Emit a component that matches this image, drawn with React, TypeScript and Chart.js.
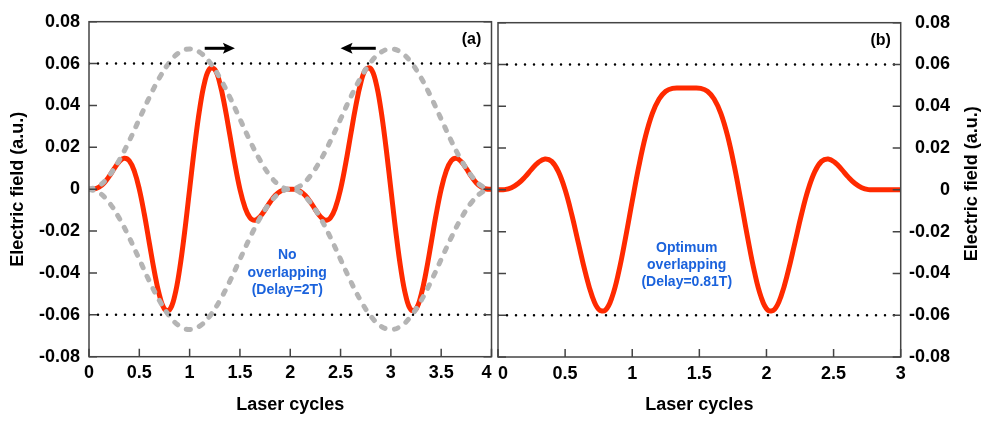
import React, { useEffect, useRef } from 'react';
import { Chart, registerables } from 'chart.js';

Chart.register(...registerables);

const FONT = '"Liberation Sans", Arial, Helvetica, sans-serif';

// ---------- axis ticks ----------
const yTickValues = [-0.08, -0.06, -0.04, -0.02, 0, 0.02, 0.04, 0.06, 0.08];
const yTickLabels = ['-0.08', '-0.06', '-0.04', '-0.02', '0', '0.02', '0.04', '0.06', '0.08'];
const xTickValuesA = [0, 0.5, 1, 1.5, 2, 2.5, 3, 3.5, 4];
const xTickLabelsA = ['0', '0.5', '1', '1.5', '2', '2.5', '3', '3.5', '4'];
const xTickValuesB = [0, 0.5, 1, 1.5, 2, 2.5, 3];
const xTickLabelsB = ['0', '0.5', '1', '1.5', '2', '2.5', '3'];
const xTitle = 'Laser cycles';
const yTitle = 'Electric field (a.u.)';

// ---------- panel (a): no overlapping (delay = 2T) ----------
const redXA = [
  0, 0.05, 0.1, 0.15, 0.2, 0.25, 0.3, 0.35, 0.4, 0.45, 0.5, 0.55, 0.6, 0.65, 0.7, 0.75, 0.8, 0.85, 0.9, 0.95,
  1, 1.05, 1.1, 1.15, 1.2, 1.25, 1.3, 1.35, 1.4, 1.45, 1.5, 1.55, 1.6, 1.65, 1.7, 1.75, 1.8, 1.85, 1.9, 1.95,
  2, 2.05, 2.1, 2.15, 2.2, 2.25, 2.3, 2.35, 2.4, 2.45, 2.5, 2.55, 2.6, 2.65, 2.7, 2.75, 2.8, 2.85, 2.9, 2.95,
  3, 3.05, 3.1, 3.15, 3.2, 3.25, 3.3, 3.35, 3.4, 3.45, 3.5, 3.55, 3.6, 3.65, 3.7, 3.75, 3.8, 3.85, 3.9, 3.95, 4,
];
const redYA = [
  0, 0.0001, 0.001, 0.003, 0.0061, 0.0098, 0.0131, 0.0148, 0.0136, 0.0087, 0, -0.012, -0.0258, -0.0394, -0.0506, -0.0572, -0.0576, -0.0513, -0.0384, -0.0206,
  0, 0.0206, 0.0384, 0.0513, 0.0576, 0.0572, 0.0506, 0.0394, 0.0258, 0.012, 0, -0.0087, -0.0136, -0.0148, -0.0131, -0.0098, -0.0061, -0.003, -0.001, -0.0001,
  0, -0.0001, -0.001, -0.003, -0.0061, -0.0098, -0.0131, -0.0148, -0.0136, -0.0087, 0, 0.012, 0.0258, 0.0394, 0.0506, 0.0572, 0.0576, 0.0513, 0.0384, 0.0206,
  0, -0.0206, -0.0384, -0.0513, -0.0576, -0.0572, -0.0506, -0.0394, -0.0258, -0.012, 0, 0.0087, 0.0136, 0.0148, 0.0131, 0.0098, 0.0061, 0.003, 0.001, 0.0001, 0,
];
const envX = [
  0, 0.1, 0.2, 0.3, 0.4, 0.5, 0.6, 0.7, 0.8, 0.9, 1, 1.1, 1.2, 1.3, 1.4, 1.5, 1.6, 1.7, 1.8, 1.9,
  2, 2.1, 2.2, 2.3, 2.4, 2.5, 2.6, 2.7, 2.8, 2.9, 3, 3.1, 3.2, 3.3, 3.4, 3.5, 3.6, 3.7, 3.8, 3.9, 4,
];
const envUpper = [
  0, 0.0016, 0.0064, 0.0138, 0.0231, 0.0335, 0.0439, 0.0532, 0.0606, 0.0654, 0.067, 0.0654, 0.0606, 0.0532, 0.0439, 0.0335, 0.0231, 0.0138, 0.0064, 0.0016,
  0, 0.0016, 0.0064, 0.0138, 0.0231, 0.0335, 0.0439, 0.0532, 0.0606, 0.0654, 0.067, 0.0654, 0.0606, 0.0532, 0.0439, 0.0335, 0.0231, 0.0138, 0.0064, 0.0016, 0,
];
const envLower = [
  0, -0.0016, -0.0064, -0.0138, -0.0231, -0.0335, -0.0439, -0.0532, -0.0606, -0.0654, -0.067, -0.0654, -0.0606, -0.0532, -0.0439, -0.0335, -0.0231, -0.0138, -0.0064, -0.0016,
  0, -0.0016, -0.0064, -0.0138, -0.0231, -0.0335, -0.0439, -0.0532, -0.0606, -0.0654, -0.067, -0.0654, -0.0606, -0.0532, -0.0439, -0.0335, -0.0231, -0.0138, -0.0064, -0.0016, 0,
];
const refXA = [0, 4];
const refUpper = [0.06, 0.06];
const refLower = [-0.06, -0.06];
const arrowFromX = [1.15, 2.85];
const arrowToX = [1.45, 2.5];
const arrowY = [0.0673, 0.0673];
const noteA = ['No', 'overlapping', '(Delay=2T)'];
const noteAX = 1.97;
const noteAY = [-0.0314, -0.0399, -0.0481];

// ---------- panel (b): optimum overlapping (delay = 0.81T) ----------
const redXB = [
  0, 0.05, 0.1, 0.15, 0.2, 0.25, 0.3, 0.35, 0.4, 0.45, 0.5, 0.55, 0.6, 0.65, 0.7, 0.75, 0.8,
  0.85, 0.9, 0.95, 1, 1.05, 1.1, 1.15, 1.2, 1.25, 1.3, 1.35, 1.4,
  1.41, 1.46, 1.51, 1.56, 1.61, 1.66, 1.71, 1.76, 1.81, 1.86, 1.91, 1.96,
  2.01, 2.06, 2.11, 2.16, 2.21, 2.26, 2.31, 2.36, 2.41, 2.46, 2.51, 2.56, 2.61, 2.66, 2.71, 2.76, 2.81,
  2.85, 2.9, 2.95, 3,
];
const redYB = [
  0, 0.0001, 0.001, 0.003, 0.0061, 0.0098, 0.0131, 0.0148, 0.0136, 0.0087, 0, -0.012, -0.0258, -0.0394, -0.0506, -0.0572, -0.0576,
  -0.0513, -0.0391, -0.023, -0.0054, 0.0115, 0.0259, 0.0366, 0.0435, 0.0472, 0.0486, 0.0488, 0.0487,
  0.0487, 0.0488, 0.0486, 0.0472, 0.0435, 0.0366, 0.0259, 0.0115, -0.0054, -0.023, -0.0391, -0.0513,
  -0.0576, -0.0572, -0.0506, -0.0394, -0.0258, -0.012, 0, 0.0087, 0.0136, 0.0148, 0.0131, 0.0098, 0.0061, 0.003, 0.001, 0.0001, 0,
  0, 0, 0, 0,
];
const refXB = [0, 3];
const noteB = ['Optimum', 'overlapping', '(Delay=0.81T)'];
const noteBX = 1.406;
const noteBY = [-0.028, -0.036, -0.044];

// ---------- styles ----------
const RED = '#ff2a00';
const GRAY = '#b4b4b4';
const BLUE = '#1a62dc';
const FRAME = '#444444';

const pts = (xs: number[], ys: number[]) => xs.map((x, i) => ({ x, y: ys[i] }));

const refStyle = {
  borderColor: '#000',
  borderWidth: 2.5,
  borderDash: [0, 9],
  borderCapStyle: 'round' as const,
  pointRadius: 0,
  tension: 0,
};
const grayStyle = {
  borderColor: GRAY,
  borderWidth: 5,
  borderDash: [4, 9.5],
  borderCapStyle: 'round' as const,
  pointRadius: 0,
  tension: 0.4,
};
const redStyle = {
  borderColor: RED,
  borderWidth: 5,
  borderCapStyle: 'round' as const,
  borderJoinStyle: 'round' as const,
  pointRadius: 0,
  tension: 0.4,
};

const tickFont = { family: FONT, size: 18, weight: 'bold' as const };
const titleFont = { family: FONT, size: 18, weight: 'bold' as const };

// edgePad nudges the shared "4 | 0" labels apart, as in the original figure
const labelFor = (values: number[], labels: string[], edgePad: 'last' | 'first' | 'none' = 'none') =>
  (v: number | string) => {
    const i = values.findIndex((t) => Math.abs(t - Number(v)) < 1e-6);
    if (i < 0) return '';
    if (edgePad === 'last' && i === values.length - 1) return labels[i] + '  ';
    if (edgePad === 'first' && i === 0) return '  ' + labels[i];
    return labels[i];
  };

interface DecorCfg {
  panel: string;
  note: string[];
  noteX: number;
  noteY: number[];
  arrows: boolean;
  rightTitle: boolean;
}

const decorPlugin = (cfg: DecorCfg) => ({
  id: 'decor',
  afterDraw(chart: any) {
    const { ctx, chartArea, scales } = chart;
    const { left, right, top, bottom } = chartArea;
    const x = scales.x;
    const y = scales.y;
    ctx.save();
    // inside tick marks
    ctx.strokeStyle = FRAME;
    ctx.lineWidth = 1.5;
    ctx.beginPath();
    y.ticks.forEach((t: any) => {
      const p = y.getPixelForValue(t.value);
      ctx.moveTo(left, p);
      ctx.lineTo(left + 8, p);
      ctx.moveTo(right, p);
      ctx.lineTo(right - 8, p);
    });
    x.ticks.forEach((t: any) => {
      const p = x.getPixelForValue(t.value);
      ctx.moveTo(p, bottom);
      ctx.lineTo(p, bottom - 8);
    });
    ctx.stroke();
    ctx.strokeRect(left, top, right - left, bottom - top);

    // panel label
    ctx.fillStyle = '#000';
    ctx.textAlign = 'center';
    ctx.textBaseline = 'middle';
    ctx.font = `bold 16px ${FONT}`;
    ctx.fillText(cfg.panel, right - 20, top + 18);

    // annotation
    ctx.fillStyle = BLUE;
    ctx.font = `bold 14px ${FONT}`;
    const nx = x.getPixelForValue(cfg.noteX);
    cfg.note.forEach((line, i) => ctx.fillText(line, nx, y.getPixelForValue(cfg.noteY[i])));

    // arrows
    if (cfg.arrows) {
      ctx.strokeStyle = '#000';
      ctx.fillStyle = '#000';
      ctx.lineWidth = 3;
      arrowFromX.forEach((fx, i) => {
        const x0 = x.getPixelForValue(fx);
        const x1 = x.getPixelForValue(arrowToX[i]);
        const py = y.getPixelForValue(arrowY[i]);
        const dir = Math.sign(x1 - x0);
        const head = 12;
        ctx.beginPath();
        ctx.moveTo(x0, py);
        ctx.lineTo(x1 - dir * head * 0.7, py);
        ctx.stroke();
        ctx.beginPath();
        ctx.moveTo(x1, py);
        ctx.lineTo(x1 - dir * head, py - 5.5);
        ctx.lineTo(x1 - dir * head * 0.8, py);
        ctx.lineTo(x1 - dir * head, py + 5.5);
        ctx.closePath();
        ctx.fill();
      });
    }

    // right-hand axis title (reads bottom to top)
    if (cfg.rightTitle) {
      ctx.fillStyle = '#000';
      ctx.font = `bold 18px ${FONT}`;
      ctx.translate(972, (top + bottom) / 2 - 6);
      ctx.rotate(-Math.PI / 2);
      ctx.fillText(yTitle, 0, 0);
    }
    ctx.restore();
  },
});

function baseOptions(
  padding: any,
  xMax: number,
  xVals: number[],
  xLabels: string[],
  edgePad: 'last' | 'first',
  yPos: 'left' | 'right',
  yWidth: number,
  xHeight: number,
) {
  return {
    animation: false as const,
    responsive: false,
    maintainAspectRatio: false,
    devicePixelRatio: 1,
    events: [] as any[],
    layout: { padding },
    plugins: { legend: { display: false }, tooltip: { enabled: false } },
    scales: {
      x: {
        type: 'linear' as const,
        min: 0,
        max: xMax,
        afterBuildTicks: (s: any) => {
          s.ticks = xVals.map((v) => ({ value: v }));
        },
        afterFit: (s: any) => {
          s.height = xHeight;
          s.paddingLeft = 0;
          s.paddingRight = 0;
        },
        grid: { display: false, drawTicks: false },
        border: { display: false },
        ticks: {
          autoSkip: false,
          maxRotation: 0,
          padding: 6,
          color: '#000',
          font: tickFont,
          callback: labelFor(xVals, xLabels, edgePad),
        },
        title: { display: true, text: xTitle, color: '#000', font: titleFont, padding: { top: 0, bottom: 5 } },
      },
      y: {
        type: 'linear' as const,
        position: yPos,
        min: -0.08,
        max: 0.08,
        afterBuildTicks: (s: any) => {
          s.ticks = yTickValues.map((v) => ({ value: v }));
        },
        afterFit: (s: any) => {
          s.width = yWidth;
          s.paddingTop = 0;
          s.paddingBottom = 0;
        },
        grid: { display: false, drawTicks: false },
        border: { display: false },
        ticks: {
          autoSkip: false,
          padding: 9,
          crossAlign: yPos === 'left' ? ('near' as const) : ('far' as const),
          color: '#000',
          font: tickFont,
          callback: labelFor(yTickValues, yTickLabels),
        },
        title: {
          display: yPos === 'left',
          text: yTitle,
          color: '#000',
          font: titleFont,
          padding: { top: 7, bottom: 0 },
        },
      },
    },
  };
}

export default function App() {
  const refA = useRef<HTMLCanvasElement>(null);
  const refB = useRef<HTMLCanvasElement>(null);

  useEffect(() => {
    const chartA = new Chart(refA.current as HTMLCanvasElement, {
      type: 'line',
      data: {
        datasets: [
          { data: pts(refXA, refUpper), ...refStyle },
          { data: pts(refXA, refLower), ...refStyle },
          { data: pts(envX, envUpper), ...grayStyle },
          { data: pts(envX, envLower), ...grayStyle },
          { data: pts(redXA, redYA), ...redStyle },
        ],
      },
      options: baseOptions({ left: 0, top: 21.7, right: 497.5, bottom: 0 }, 4, xTickValuesA, xTickLabelsA, 'last', 'left', 89, 64.3) as any,
      plugins: [
        decorPlugin({ panel: '(a)', note: noteA, noteX: noteAX, noteY: noteAY, arrows: true, rightTitle: false }),
      ],
    });
    const chartB = new Chart(refB.current as HTMLCanvasElement, {
      type: 'line',
      data: {
        datasets: [
          { data: pts(refXB, refUpper), ...refStyle },
          { data: pts(refXB, refLower), ...refStyle },
          { data: pts(redXB, redYB), ...redStyle },
        ],
      },
      options: baseOptions({ left: 498, top: 22.7, right: 39, bottom: 0 }, 3, xTickValuesB, xTickLabelsB, 'first', 'right', 49.3, 64) as any,
      plugins: [
        decorPlugin({ panel: '(b)', note: noteB, noteX: noteBX, noteY: noteBY, arrows: false, rightTitle: true }),
      ],
    });
    return () => {
      chartA.destroy();
      chartB.destroy();
    };
  }, []);

  return (
    <div style={{ position: 'absolute', left: 0, top: 0, width: 989, height: 421, background: '#fff' }}>
      <canvas ref={refA} width={989} height={421} style={{ position: 'absolute', left: 0, top: 0 }} />
      <canvas ref={refB} width={989} height={421} style={{ position: 'absolute', left: 0, top: 0 }} />
    </div>
  );
}
